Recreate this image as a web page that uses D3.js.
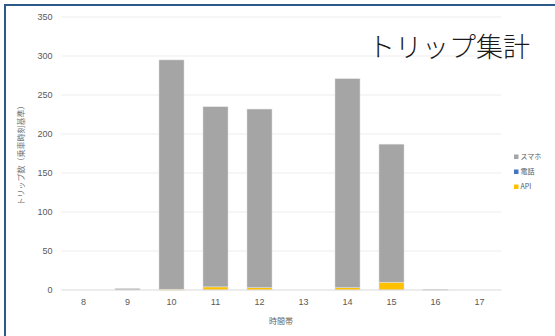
<!DOCTYPE html>
<html>
<head>
<meta charset="utf-8">
<script src="https://cdn.jsdelivr.net/npm/d3@7"></script>
<style>
  body { margin: 0; background: #fff; }
  svg { display: block; font-family: "Noto Sans CJK JP", "Noto Sans", sans-serif; }
</style>
</head>
<body>
<div id="chart"></div>
<script>
// data
var hours = ["8", "9", "10", "11", "12", "13", "14", "15", "16", "17"]
var smartphone = [0, 2, 294, 231, 229, 0, 268, 177, 1, 0]
var phone = [0, 0, 0, 0, 0, 0, 0, 0, 0, 0]
var api = [0, 0, 1, 4, 3, 0, 3, 10, 0, 0]
var yTicks = [0, 50, 100, 150, 200, 250, 300, 350]

var seriesNames = ["API", "電話", "スマホ"]
var seriesColours = {"API": "#FFC000", "電話": "#4472C4", "スマホ": "#A5A5A5"}

var w = 555, h = 336
var svg = d3.select("#chart").append("svg")
  .attr("width", w)
  .attr("height", h)

// outer frame (only top and left edges are visible)
svg.append("rect")
  .attr("x", 5).attr("y", 5)
  .attr("width", w + 20).attr("height", h + 20)
  .attr("fill", "none")
  .attr("stroke", "#2B5A8A")
  .attr("stroke-width", 2)

var plot = {left: 61.5, right: 501.5, top: 17, bottom: 290}

var x = d3.scaleBand()
  .domain(hours)
  .range([plot.left, plot.right])
  .paddingInner(0.43)
  .paddingOuter(0.215)

var y = d3.scaleLinear()
  .domain([0, 350])
  .range([plot.bottom, plot.top])

// gridlines
svg.append("g")
  .selectAll("line")
  .data(yTicks.slice(1))
  .enter().append("line")
  .attr("x1", plot.left).attr("x2", plot.right)
  .attr("y1", function(d) { return y(d) }).attr("y2", function(d) { return y(d) })
  .attr("stroke", "#EDEDED")
  .attr("stroke-width", 1)

// y tick labels
var yAxis = d3.axisLeft(y).tickValues(yTicks).tickSize(0).tickPadding(9)
svg.append("g")
  .attr("transform", "translate(" + plot.left + ",0)")
  .call(yAxis)
  .call(function(g) { g.select(".domain").remove() })
  .selectAll("text")
  .attr("fill", "#595959")
  .style("font-size", "9px")
  .style("font-family", "Liberation Sans, Arial, sans-serif")

// stacked bars
var rows = hours.map(function(hr, i) {
  return {hour: hr, "API": api[i], "電話": phone[i], "スマホ": smartphone[i]}
})
var stacked = d3.stack().keys(seriesNames)(rows)

svg.append("g")
  .selectAll("g")
  .data(stacked)
  .enter().append("g")
  .attr("fill", function(d) { return seriesColours[d.key] })
  .selectAll("rect")
  .data(function(d) { return d.filter(function(p) { return p[1] > p[0] }) })
  .enter().append("rect")
  .attr("x", function(d) { return x(d.data.hour) })
  .attr("width", x.bandwidth())
  .attr("y", function(d) { return y(d[1]) })
  .attr("height", function(d) { return Math.max(y(d[0]) - y(d[1]), 1) })
  .attr("stroke", "#E6E6E6")
  .attr("stroke-width", 0.5)

// baseline
svg.append("line")
  .attr("x1", plot.left).attr("x2", plot.right)
  .attr("y1", y(0)).attr("y2", y(0))
  .attr("stroke", "#D9D9D9")
  .attr("stroke-width", 1)

// x tick labels
var xAxis = d3.axisBottom(x).tickSize(0).tickPadding(9)
svg.append("g")
  .attr("transform", "translate(0," + plot.bottom + ")")
  .call(xAxis)
  .call(function(g) { g.select(".domain").remove() })
  .selectAll("text")
  .attr("fill", "#595959")
  .style("font-size", "9px")
  .style("font-family", "Liberation Sans, Arial, sans-serif")

// axis titles
svg.append("text")
  .attr("x", 281).attr("y", 324)
  .attr("text-anchor", "middle")
  .attr("fill", "#666")
  .style("font-size", "8px")
  .text("時間帯")

svg.append("text")
  .attr("transform", "translate(24," + ((plot.top + plot.bottom) / 2) + ") rotate(-90)")
  .attr("text-anchor", "middle")
  .attr("fill", "#777")
  .style("font-size", "8px")
  .text("トリップ数（乗車時刻基準）")

// chart title
svg.append("text")
  .attr("x", 530).attr("y", 57)
  .attr("text-anchor", "end")
  .attr("fill", "#1a1a1a")
  .style("font-size", "27px")
  .style("font-weight", 300)
  .text("トリップ集計")

// legend
var legendItems = ["スマホ", "電話", "API"]
var legend = svg.append("g")
  .selectAll("g")
  .data(legendItems)
  .enter().append("g")
  .attr("transform", function(d, i) { return "translate(514," + (157 + i * 15) + ")" })

legend.append("rect")
  .attr("x", 0).attr("y", -2.5)
  .attr("width", 4.5).attr("height", 4.5)
  .attr("fill", function(d) { return seriesColours[d] })

legend.append("text")
  .attr("x", 6.5).attr("y", 0)
  .attr("dy", "0.35em")
  .attr("fill", "#595959")
  .style("font-size", "7px")
  .text(function(d) { return d })
</script>
</body>
</html>
